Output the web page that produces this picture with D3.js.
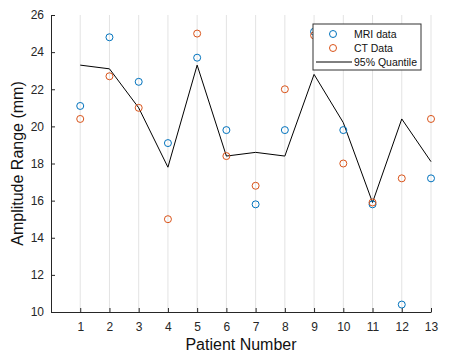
<!DOCTYPE html>
<html>
<head>
<meta charset="utf-8">
<script src="https://cdn.jsdelivr.net/npm/d3@7"></script>
<style>
  body { margin: 0; background: #fff; }
  text { font-family: Arial, "Liberation Sans", Helvetica, sans-serif; }
</style>
</head>
<body>
<svg id="chart"></svg>
<script>
// patient ids and measured values
let patients = [1, 2, 3, 4, 5, 6, 7, 8, 9, 10, 11, 12, 13];
let mriData = [21.1, 24.8, 22.4, 19.1, 23.7, 19.8, 15.8, 19.8, 25.1, 19.8, 15.8, 10.4, 17.2];
let ctData = [20.4, 22.7, 21.0, 15.0, 25.0, 18.4, 16.8, 22.0, 24.9, 18.0, 15.9, 17.2, 20.4];
let quantile = [23.3, 23.1, 21.0, 17.8, 23.3, 18.4, 18.6, 18.4, 22.8, 20.2, 15.9, 20.4, 18.1];
let yTicks = [10, 12, 14, 16, 18, 20, 22, 24, 26];
let legendLabels = ["MRI data", "CT Data", "95% Quantile"];

let width = 451, height = 359;
let margin = { top: 15, right: 20, bottom: 47, left: 51 };
let bodyWidth = width - margin.left - margin.right;
let bodyHeight = height - margin.top - margin.bottom;

let svg = d3.select("#chart").attr("width", width).attr("height", height);
let body = svg.append("g").attr("transform", `translate(${margin.left},${margin.top})`);

let xScale = d3.scaleLinear().domain([0, 13]).range([0, bodyWidth]);
let yScale = d3.scaleLinear().domain([10, 26]).range([bodyHeight, 0]);

let blue = "#0072BD", orange = "#D95319", axisColor = "#262626";

// vertical grid
body.selectAll(".grid").data(patients).enter()
  .append("line")
  .attr("x1", d => xScale(d)).attr("x2", d => xScale(d))
  .attr("y1", 0).attr("y2", bodyHeight)
  .attr("stroke", "#e3e3e3").attr("stroke-width", 1);

// axes
let axisX = d3.axisBottom(xScale).tickValues(patients).tickSize(-4).tickPadding(10).tickSizeOuter(0);
let gX = body.append("g").attr("transform", `translate(0,${bodyHeight})`).call(axisX);
let axisY = d3.axisLeft(yScale).tickValues(yTicks).tickSize(-4).tickPadding(7).tickSizeOuter(0);
let gY = body.append("g").call(axisY);
[gX, gY].forEach(g => {
  g.select(".domain").attr("stroke", axisColor);
  g.selectAll(".tick line").attr("stroke", axisColor);
  g.selectAll(".tick text").attr("fill", axisColor).style("font-size", "12px")
    .style("font-family", "Arial, 'Liberation Sans', sans-serif");
});

// quantile line
let line = d3.line().x((d, i) => xScale(patients[i])).y(d => yScale(d));
body.append("path").datum(quantile)
  .attr("d", line).attr("fill", "none").attr("stroke", "#000").attr("stroke-width", 1);

// markers
function drawPoints(values, color) {
  body.append("g").selectAll("circle").data(values).enter()
    .append("circle")
    .attr("cx", (d, i) => xScale(patients[i]))
    .attr("cy", d => yScale(d))
    .attr("r", 3.5)
    .attr("fill", "none").attr("stroke", color).attr("stroke-width", 1);
}
drawPoints(mriData, blue);
drawPoints(ctData, orange);

// axis titles
svg.append("text")
  .attr("x", margin.left + bodyWidth / 2).attr("y", 350)
  .attr("text-anchor", "middle").attr("fill", "#111").style("font-size", "16px")
  .text("Patient Number");
svg.append("text")
  .attr("transform", `translate(23,${margin.top + bodyHeight / 2}) rotate(-90)`)
  .attr("text-anchor", "middle").attr("fill", "#111").style("font-size", "16px")
  .text("Amplitude Range (mm)");

// legend
let legend = svg.append("g").attr("transform", "translate(313,24)");
legend.append("rect").attr("width", 108).attr("height", 46)
  .attr("fill", "#fff").attr("stroke", "#333").attr("stroke-width", 1);
let rowY = [10, 24, 38];
legend.append("circle").attr("cx", 20).attr("cy", rowY[0]).attr("r", 3.5)
  .attr("fill", "none").attr("stroke", blue);
legend.append("circle").attr("cx", 20).attr("cy", rowY[1]).attr("r", 3.5)
  .attr("fill", "none").attr("stroke", orange);
legend.append("line").attr("x1", 3).attr("x2", 39).attr("y1", rowY[2]).attr("y2", rowY[2])
  .attr("stroke", "#000");
legend.selectAll(".lbl").data(legendLabels).enter()
  .append("text")
  .attr("x", 41).attr("y", (d, i) => rowY[i] + 4)
  .attr("fill", "#111").style("font-size", "10.5px")
  .text(d => d);
</script>
</body>
</html>
